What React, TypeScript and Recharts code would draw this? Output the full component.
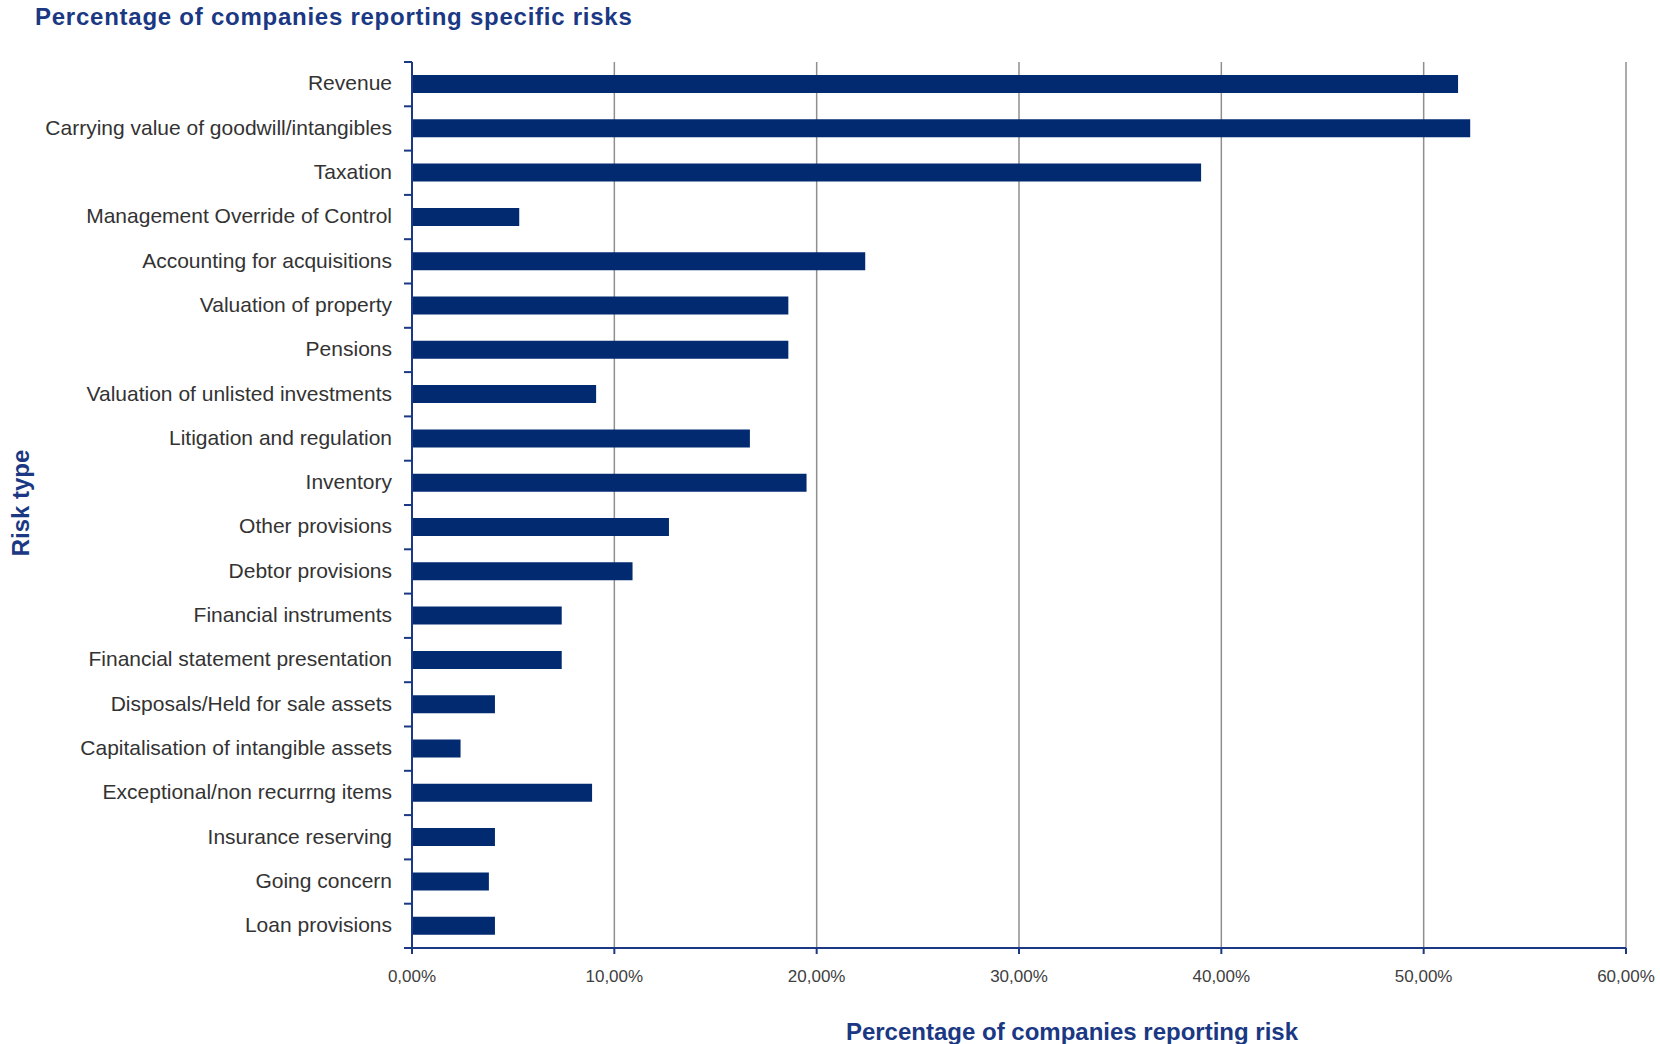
import { BarChart, Bar, XAxis, YAxis, CartesianGrid } from 'recharts';

const categories = [
  'Revenue',
  'Carrying value of goodwill/intangibles',
  'Taxation',
  'Management Override of Control',
  'Accounting for acquisitions',
  'Valuation of property',
  'Pensions',
  'Valuation of unlisted investments',
  'Litigation and regulation',
  'Inventory',
  'Other provisions',
  'Debtor provisions',
  'Financial instruments',
  'Financial statement presentation',
  'Disposals/Held for sale assets',
  'Capitalisation of intangible assets',
  'Exceptional/non recurrng items',
  'Insurance reserving',
  'Going concern',
  'Loan provisions',
];

// % of companies reporting each risk
const shares = [51.7, 52.3, 39.0, 5.3, 22.4, 18.6, 18.6, 9.1, 16.7, 19.5, 12.7, 10.9, 7.4, 7.4, 4.1, 2.4, 8.9, 4.1, 3.8, 4.1];

const xTicks = [0, 10, 20, 30, 40, 50, 60];

const data = categories.map((risk, i) => ({ risk, share: shares[i] }));

const W = 1660;
const H = 1044;
const margin = { top: 62, right: 34, bottom: 0, left: 0 };
const Y_AXIS_W = 412;
const X_AXIS_H = 96;
const PLOT_H = H - margin.top - margin.bottom - X_AXIS_H;
const band = PLOT_H / categories.length;

const NAVY = '#1a3883';
const BAR = '#022a71';
const TICK_SIZE = 8;
const TICK_MARGIN = 12;

const fmt = (v: number) => `${v.toFixed(2).replace('.', ',')}%`;

function RiskTick(props: any) {
  const { x, y, payload, index } = props;
  const axisX = x + TICK_SIZE + TICK_MARGIN;
  const last = index === categories.length - 1;
  return (
    <g>
      <line x1={axisX - TICK_SIZE} x2={axisX} y1={y - band / 2} y2={y - band / 2} stroke={NAVY} strokeWidth={2} />
      {last && (
        <line x1={axisX - TICK_SIZE} x2={axisX} y1={y + band / 2} y2={y + band / 2} stroke={NAVY} strokeWidth={2} />
      )}
      <text
        x={x}
        y={y}
        dy="0.3em"
        textAnchor="end"
        fill="#333333"
        fontSize={21}
        fontFamily="'Liberation Sans', Arial, sans-serif"
      >
        {payload.value}
      </text>
    </g>
  );
}

export default function App() {
  return (
    <div
      style={{
        position: 'absolute',
        left: 0,
        top: 0,
        width: W,
        height: H,
        background: '#fff',
        fontFamily: "'Liberation Sans', Arial, sans-serif",
      }}
    >
      <div
        style={{
          position: 'absolute',
          left: 35,
          top: 5,
          fontSize: 24,
          lineHeight: '24px',
          fontWeight: 'bold',
          color: NAVY,
          letterSpacing: 0.75,
          whiteSpace: 'nowrap',
        }}
      >
        Percentage of companies reporting specific risks
      </div>

      <BarChart width={W} height={H} data={data} layout="vertical" margin={margin}>
        <CartesianGrid horizontal={false} stroke="#8f8f8f" strokeWidth={1.5} />
        <XAxis
          type="number"
          domain={[0, 60]}
          ticks={xTicks}
          tickFormatter={fmt}
          height={X_AXIS_H}
          stroke={NAVY}
          strokeWidth={2}
          tickSize={6}
          tickMargin={16}
          tick={{ fill: '#404040', fontSize: 17, fontFamily: "'Liberation Sans', Arial, sans-serif" }}
        />
        <YAxis
          type="category"
          dataKey="risk"
          width={Y_AXIS_W}
          interval={0}
          stroke={NAVY}
          strokeWidth={2}
          tickLine={false}
          tickSize={TICK_SIZE}
          tickMargin={TICK_MARGIN}
          tick={(p: any) => <RiskTick {...p} />}
        />
        <Bar dataKey="share" fill={BAR} barSize={18} isAnimationActive={false} />
      </BarChart>

      <div
        style={{
          position: 'absolute',
          left: 1072 - 300,
          top: 1020,
          width: 600,
          textAlign: 'center',
          fontSize: 24,
          lineHeight: '24px',
          fontWeight: 'bold',
          color: NAVY,
        }}
      >
        Percentage of companies reporting risk
      </div>

      <div
        style={{
          position: 'absolute',
          left: 21,
          top: 503,
          transform: 'translate(-50%, -50%) rotate(-90deg)',
          fontSize: 24,
          lineHeight: '24px',
          fontWeight: 'bold',
          color: NAVY,
          whiteSpace: 'nowrap',
        }}
      >
        Risk type
      </div>
    </div>
  );
}
